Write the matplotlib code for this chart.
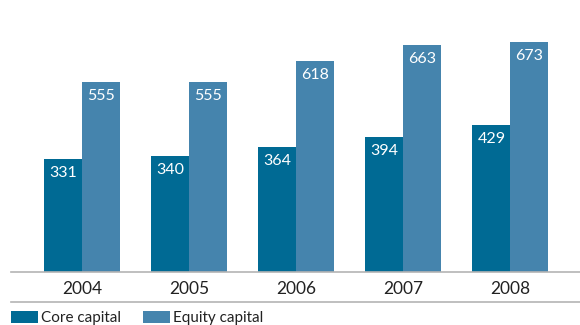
import matplotlib
matplotlib.use("Agg")
import matplotlib.pyplot as plt
import numpy as np
from matplotlib.patches import Rectangle
from matplotlib.lines import Line2D

years = ["2004", "2005", "2006", "2007", "2008"]
core_capital = [331, 340, 364, 394, 429]
equity_capital = [555, 555, 618, 663, 673]

CORE = "#006a94"
EQUITY = "#4584ad"
GRID = "#b4b4b4"

plt.rcParams["font.family"] = ["Lato", "DejaVu Sans"]

W, H = 580, 325
fig = plt.figure(figsize=(W / 100, H / 100), dpi=100)
ax = fig.add_axes([11 / W, (H - 272) / H, 569 / W, 272 / H])

x = np.arange(len(years))
bw = 0.355
b1 = ax.bar(x - bw / 2, core_capital, bw, color=CORE, linewidth=0)
b2 = ax.bar(x + bw / 2, equity_capital, bw, color=EQUITY, linewidth=0)

# value labels in white just inside the top of each bar
for bars, vals in ((b1, core_capital), (b2, equity_capital)):
    for rect, v in zip(bars, vals):
        ax.annotate(str(v), (rect.get_x() + rect.get_width() / 2, v),
                    xytext=(0, -5), textcoords="offset points",
                    ha="center", va="top", color="white", fontsize=11.5)

ax.set_xlim(-0.668, 4.65)
ax.set_ylim(0, 795)
ax.set_yticks([])
ax.set_xticks(x)
ax.set_xticklabels(years, fontsize=12.5, color="#222222")
ax.tick_params(axis="x", length=0, pad=6.5)
for s in ("top", "right", "left"):
    ax.spines[s].set_visible(False)
ax.spines["bottom"].set_color(GRID)
ax.spines["bottom"].set_linewidth(1.2)

# rule under the year labels
fig.add_artist(Line2D([11 / W, 1], [(H - 302) / H] * 2, color=GRID, lw=1.2))

# legend
for x0, col, lab in ((11, CORE, "Core capital"), (143, EQUITY, "Equity capital")):
    fig.add_artist(Rectangle((x0 / W, 2 / H), 27 / W, 12 / H, color=col, lw=0,
                             transform=fig.transFigure))
    fig.text((x0 + 30) / W, 3 / H, lab, fontsize=11, color="#222222",
             ha="left", va="baseline")

fig.savefig("out.png", dpi=100)
